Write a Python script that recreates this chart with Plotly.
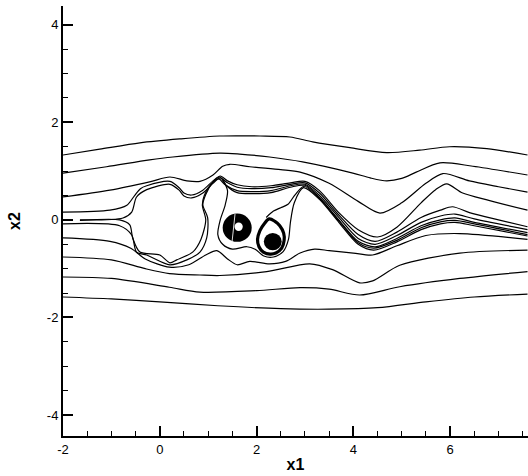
import plotly.graph_objects as go

# ---- axis ticks ----
x_ticks = [-2, 0, 2, 4, 6]
y_ticks = [-4, -2, 0, 2, 4]

# ---- streamlines (x1, x2) ----
line_a_x = [-2.0, -1.24, -0.41, 0.41, 1.24, 2.07, 2.69, 3.16, 3.93, 4.69, 5.37, 5.99, 6.76, 7.6]
line_a_y = [1.33, 1.45, 1.58, 1.66, 1.72, 1.72, 1.70, 1.60, 1.48, 1.38, 1.43, 1.50, 1.46, 1.33]

line_b_x = [-2.0, -1.1, -0.21, 0.27, 1.24, 1.65, 2.27, 2.95, 3.99, 4.35, 4.69, 5.0, 5.3, 5.79, 6.47, 7.6]
line_b_y = [0.96, 1.09, 1.23, 1.29, 1.37, 1.35, 1.29, 1.19, 0.96, 0.86, 0.80, 0.85, 0.98, 1.17, 1.10, 0.92]

line_c_x = [-2.0, -1.03, -0.21, 0.21, 0.56, 0.83, 1.1, 1.3, 1.45, 1.86, 2.5, 2.9, 3.5, 4.1, 4.55, 5.0, 5.5, 5.85, 6.4, 7.0, 7.6]
line_c_y = [0.47, 0.61, 0.78, 0.88, 0.80, 0.79, 0.92, 1.10, 1.14, 1.09, 1.03, 0.98, 0.75, 0.38, 0.14, 0.35, 0.75, 0.95, 0.80, 0.68, 0.57]

line_d_x = [-2.0, -1.03, -0.68, -0.52, -0.4, -0.27, 0.21, 0.4, 0.5, 0.66, 0.89, 1.1, 1.25, 1.4, 1.6, 1.9, 2.3, 2.7, 3.0, 3.3, 3.7, 4.1, 4.5, 4.9, 5.4, 5.7, 5.93, 6.26, 6.8, 7.6]
line_d_y = [0.16, 0.20, 0.30, 0.50, 0.64, 0.70, 0.79, 0.66, 0.55, 0.51, 0.61, 0.80, 0.90, 0.80, 0.72, 0.68, 0.70, 0.76, 0.79, 0.60, 0.15, -0.20, -0.35, -0.15, 0.35, 0.62, 0.74, 0.55, 0.40, 0.20]

line_e_x = [-1.65, -0.76, -0.58, -0.48, -0.27, 0.21, 0.4, 0.5, 0.66, 0.89, 1.1, 1.25, 1.4, 1.6, 1.9, 2.3, 2.7, 3.0, 3.3, 3.7, 4.1, 4.45, 4.9, 5.4, 5.8, 6.05, 6.4, 7.0, 7.6]
line_e_y = [0.0, 0.04, 0.16, 0.47, 0.62, 0.73, 0.61, 0.49, 0.45, 0.55, 0.75, 0.86, 0.76, 0.67, 0.64, 0.66, 0.73, 0.76, 0.55, 0.10, -0.30, -0.44, -0.25, 0.05, 0.20, 0.27, 0.15, 0.0, -0.14]

line_f_x = [-1.65, -0.83, -0.62, -0.56, -0.41, 0.0, 0.21, 0.35, 0.68, 0.85, 0.95, 0.88, 0.92, 1.05, 1.22, 1.35, 1.6, 1.9, 2.3, 2.7, 3.0, 3.3, 3.7, 4.1, 4.45, 4.9, 5.4, 5.8, 6.1, 6.5, 7.6]
line_f_y = [-0.01, 0.0, -0.1, -0.37, -0.66, -0.72, -0.88, -0.82, -0.66, -0.40, 0.0, 0.30, 0.50, 0.72, 0.84, 0.72, 0.60, 0.58, 0.60, 0.70, 0.73, 0.50, 0.05, -0.38, -0.50, -0.32, -0.05, 0.08, 0.12, 0.02, -0.20]

line_g_x = [-2.0, -0.83, -0.58, -0.48, -0.27, 0.21, 0.56, 0.83, 0.97, 0.99, 0.89, 0.95, 1.08, 1.24, 1.38, 1.6, 1.9, 2.3, 2.7, 3.0, 3.3, 3.7, 4.1, 4.45, 4.9, 5.4, 5.8, 6.1, 6.5, 7.6]
line_g_y = [-0.08, -0.12, -0.31, -0.66, -0.72, -0.92, -0.82, -0.66, -0.37, 0.04, 0.31, 0.52, 0.75, 0.88, 0.70, 0.56, 0.54, 0.56, 0.67, 0.71, 0.46, 0.0, -0.44, -0.55, -0.38, -0.12, 0.0, 0.04, -0.05, -0.26]

line_h_x = [1.3, 1.4, 1.35, 1.25, 1.2, 1.3, 1.5, 1.8, 1.97, 2.15, 2.35, 2.55, 2.66, 2.7, 2.78, 2.97, 3.3, 3.7, 4.1, 4.42, 4.9, 5.4, 5.8, 6.1, 6.5, 7.6]
line_h_y = [0.83, 0.60, 0.30, 0.0, -0.30, -0.50, -0.60, -0.55, -0.60, -0.74, -0.76, -0.65, -0.40, -0.05, 0.35, 0.66, 0.42, -0.05, -0.50, -0.62, -0.45, -0.20, -0.08, -0.05, -0.12, -0.33]

line_i_x = [2.2, 2.35, 2.5, 2.65, 2.8, 2.98, 3.3, 3.7, 4.1, 4.42, 4.9, 5.4, 5.8, 6.1, 6.5, 7.6]
line_i_y = [0.05, 0.18, 0.25, 0.32, 0.52, 0.69, 0.44, -0.02, -0.47, -0.58, -0.42, -0.16, -0.04, -0.01, -0.08, -0.30]

line_j_x = [-2.0, -1.03, -0.6, -0.3, 0.2, 0.6, 0.95, 1.18, 1.4, 1.6, 1.86, 2.27, 2.6, 2.9, 3.2, 3.5, 4.0, 4.4, 4.9, 5.5, 6.2, 7.6]
line_j_y = [-0.37, -0.44, -0.58, -0.80, -0.97, -0.92, -0.72, -0.63, -0.80, -0.92, -0.85, -0.90, -0.85, -0.68, -0.60, -0.63, -0.68, -0.72, -0.53, -0.32, -0.28, -0.40]

line_k_x = [-2.0, -1.0, -0.3, 0.2, 0.83, 1.24, 2.21, 3.1, 3.57, 4.13, 4.4, 4.96, 6.2, 7.6]
line_k_y = [-0.76, -0.82, -1.0, -1.10, -1.13, -1.14, -1.06, -0.90, -1.02, -1.29, -1.25, -0.93, -0.68, -0.62]

line_l_x = [-2.0, -1.0, 0.2, 0.83, 2.0, 2.9, 3.5, 4.13, 4.96, 6.2, 7.6]
line_l_y = [-1.17, -1.20, -1.38, -1.48, -1.45, -1.39, -1.42, -1.54, -1.37, -1.20, -1.06]

line_m_x = [-2.0, -1.0, 0.0, 1.2, 2.5, 3.5, 4.5, 5.5, 6.5, 7.6]
line_m_y = [-1.58, -1.62, -1.68, -1.76, -1.82, -1.83, -1.80, -1.68, -1.58, -1.52]

# second vortex loop (teardrop)
loop_x = [2.26, 2.38, 2.48, 2.56, 2.57, 2.52, 2.40, 2.28, 2.14, 2.05, 2.02, 2.07, 2.16, 2.26]
loop_y = [0.02, -0.03, -0.12, -0.27, -0.42, -0.58, -0.68, -0.70, -0.66, -0.55, -0.40, -0.22, -0.08, 0.02]

# vortex blobs: (x_left, x_right, y_bottom, y_top)
vortex1_outer = (1.30, 1.90, -0.45, 0.13)
vortex1_hole = (1.545, 1.715, -0.225, -0.055)
vortex2_core = (2.15, 2.52, -0.62, -0.27)
# thin light slit across the first vortex (rendering seam)
vortex1_seam_x = [1.555, 1.495]
vortex1_seam_y = [0.12, -0.44]

streamlines = [
    (line_a_x, line_a_y), (line_b_x, line_b_y), (line_c_x, line_c_y),
    (line_d_x, line_d_y), (line_e_x, line_e_y), (line_f_x, line_f_y),
    (line_g_x, line_g_y), (line_h_x, line_h_y), (line_i_x, line_i_y),
    (line_j_x, line_j_y), (line_k_x, line_k_y), (line_l_x, line_l_y),
    (line_m_x, line_m_y),
]

fig = go.Figure()
for xs, ys in streamlines:
    fig.add_trace(go.Scatter(x=xs, y=ys, mode="lines",
                             line=dict(color="black", width=1.2, shape="spline", smoothing=0.8),
                             hoverinfo="skip", showlegend=False))

fig.add_trace(go.Scatter(x=loop_x, y=loop_y, mode="lines",
                         line=dict(color="black", width=3.2, shape="spline", smoothing=1.0),
                         hoverinfo="skip", showlegend=False))

shapes = []
for (x0, x1, y0, y1), col in [(vortex1_outer, "black"), (vortex1_hole, "white"), (vortex2_core, "black")]:
    shapes.append(dict(type="circle", xref="x", yref="y", x0=x0, x1=x1, y0=y0, y1=y1,
                       fillcolor=col, line=dict(width=0), layer="above"))
shapes.append(dict(type="line", xref="x", yref="y",
                   x0=vortex1_seam_x[0], x1=vortex1_seam_x[1],
                   y0=vortex1_seam_y[0], y1=vortex1_seam_y[1],
                   line=dict(color="#dddddd", width=1), layer="above"))

axis_font = dict(family="Liberation Sans, Arial, sans-serif", size=13, color="black")
title_font = dict(family="Liberation Sans, Arial, sans-serif", size=16, color="black")

fig.update_layout(
    width=528, height=476,
    margin=dict(l=63, r=0, t=6, b=40, autoexpand=False),
    paper_bgcolor="white", plot_bgcolor="white",
    shapes=shapes,
    xaxis=dict(range=[-2, 7.61], tickvals=x_ticks, ticktext=[str(v) for v in x_ticks],
               ticks="inside", ticklen=10, tickwidth=2, tickcolor="black",
               showline=True, linecolor="black", linewidth=2, showgrid=False, zeroline=False,
               tickfont=axis_font,
               minor=dict(ticks="inside", ticklen=5, tickwidth=1, tickcolor="black", dtick=0.5, tick0=0, showgrid=False),
               title=dict(text="<b>x1</b>", font=title_font, standoff=3)),
    yaxis=dict(range=[-4.43, 4.385], tickvals=y_ticks, ticktext=[str(v) for v in y_ticks],
               ticks="inside", ticklen=10, tickwidth=2, tickcolor="black",
               showline=True, linecolor="black", linewidth=2, showgrid=False, zeroline=False,
               tickfont=axis_font,
               minor=dict(ticks="inside", ticklen=5, tickwidth=1, tickcolor="black", dtick=0.5, tick0=0, showgrid=False),
               title=dict(text="<b>x2</b>", font=title_font, standoff=22)),
)

fig.write_html("out.html")
